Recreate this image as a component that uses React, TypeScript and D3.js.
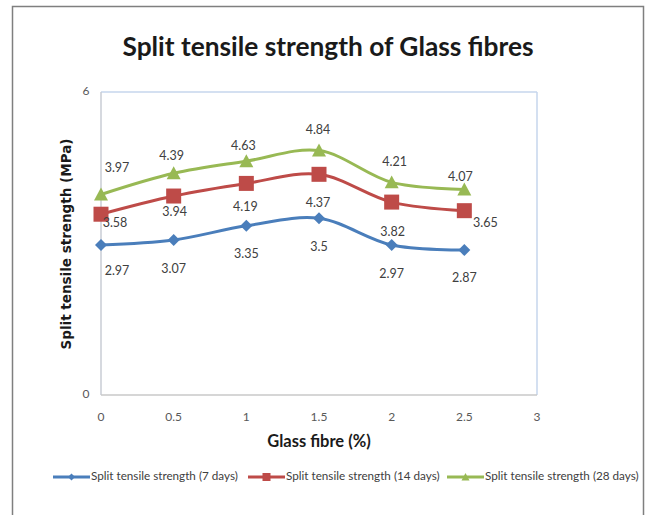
import React from "react";
import * as d3 from "d3";

const fibre = [0, 0.5, 1, 1.5, 2, 2.5];
const days7 = [2.97, 3.07, 3.35, 3.5, 2.97, 2.87];
const days14 = [3.58, 3.94, 4.19, 4.37, 3.82, 3.65];
const days28 = [3.97, 4.39, 4.63, 4.84, 4.21, 4.07];
const seriesNames = [
  "Split tensile strength (7 days)",
  "Split tensile strength (14 days)",
  "Split tensile strength (28 days)",
];
const xTicks = [0, 0.5, 1, 1.5, 2, 2.5, 3];
const yTicks = [0, 6];

const W = 646;
const H = 515;
const FONT = "Lato, 'Open Sans', sans-serif";

// label offsets (layout only)
const lblDx = [
  [16, 0, 0, 0, 0, 0],
  [14, 1, -1, -1, 1, 21],
  [16, -2, -3, -1, 3, -4],
];
const lblDy = [
  [27, 30, 29, 30, 30, 29],
  [10, 17, 24, 30, 31, 13],
  [-26, -16, -14, -20, -20, -12],
];

const colors = ["#4A7EBB", "#BE4B48", "#98B954"];
const markers = ["diamond", "square", "triangle"];

function Marker({ type, x, y, s, color }: { type: string; x: number; y: number; s: number; color: string }) {
  if (type === "diamond") {
    const h = s / 2;
    return <path d={`M${x},${y - h}L${x + h},${y}L${x},${y + h}L${x - h},${y}Z`} fill={color} />;
  }
  if (type === "square") {
    return <rect x={x - s / 2} y={y - s / 2} width={s} height={s} fill={color} />;
  }
  const h = s / 2;
  return <path d={`M${x},${y - h}L${x + h},${y + h * 0.85}L${x - h},${y + h * 0.85}Z`} fill={color} />;
}

export default function App() {
  const x = d3.scaleLinear().domain([0, 3]).range([101, 537]);
  const y = d3.scaleLinear().domain([0, 6]).range([395, 92]);
  const data = [days7, days14, days28];
  const line = d3
    .line<number>()
    .x((_, i) => x(fibre[i]))
    .y((d) => y(d))
    .curve(d3.curveCatmullRom.alpha(0.5));
  const mSize = [12, 15, 14];
  const legendX = [53, 248, 447];
  const legendY = 477;
  const legendLen = 37;
  const lmSize = [7, 8, 8];

  return (
    <svg width={W} height={H} style={{ position: "absolute", left: 0, top: 0, background: "#fff" }}>
      <rect x={0} y={0} width={W} height={H} fill="#fff" />
      <path d={`M12.5,${H}V6.5H643.5V${H}`} fill="none" stroke="#7f7f7f" strokeWidth={1.5} />
      <text x={328} y={49} textAnchor="middle" dominantBaseline="middle" fontFamily={FONT} fontWeight="bold" fontSize={26.3} fill="#1a1a1a">
        Split tensile strength of Glass fibres
      </text>
      {/* plot frame */}
      <line x1={x(0)} x2={x(3)} y1={y(6)} y2={y(6)} stroke="#c6d6ec" strokeWidth={1.5} />
      <line x1={x(3)} x2={x(3)} y1={y(6)} y2={y(0)} stroke="#c6d6ec" strokeWidth={1.5} />
      <line x1={x(0)} x2={x(0)} y1={y(6)} y2={y(0)} stroke="#c8ccd4" strokeWidth={1.5} />
      <line x1={x(0)} x2={x(3)} y1={y(0)} y2={y(0)} stroke="#c8c8c8" strokeWidth={1.5} />
      {yTicks.map((t) => (
        <text key={t} x={86} y={y(t)} textAnchor="middle" dominantBaseline="middle" fontFamily={FONT} fontSize={12} fill="#595959">
          {t}
        </text>
      ))}
      {xTicks.map((t) => (
        <text key={t} x={x(t)} y={418} textAnchor="middle" dominantBaseline="middle" fontFamily={FONT} fontSize={12} fill="#595959">
          {t}
        </text>
      ))}
      <text x={319} y={443} textAnchor="middle" dominantBaseline="middle" fontFamily={FONT} fontWeight="bold" fontSize={16.5} fill="#1a1a1a">
        Glass fibre (%)
      </text>
      <text
        transform={`translate(67,244) rotate(-90)`}
        textAnchor="middle"
        dominantBaseline="middle"
        fontFamily="'DejaVu Sans', sans-serif"
        fontWeight="bold"
        fontSize={13.5}
        fill="#1a1a1a"
      >
        Split tensile strength (MPa)
      </text>
      {data.map((s, si) => (
        <g key={si}>
          <path d={line(s) || ""} fill="none" stroke={colors[si]} strokeWidth={3} />
          {s.map((v, i) => (
            <Marker key={i} type={markers[si]} x={x(fibre[i])} y={y(v)} s={mSize[si]} color={colors[si]} />
          ))}
        </g>
      ))}
      {data.map((s, si) =>
        s.map((v, i) => (
          <text
            key={`${si}-${i}`}
            x={x(fibre[i]) + lblDx[si][i]}
            y={y(v) + lblDy[si][i]}
            textAnchor="middle"
            dominantBaseline="middle"
            fontFamily={FONT}
            fontSize={12.5}
            fill="#404040"
          >
            {v}
          </text>
        ))
      )}
      {seriesNames.map((n, si) => (
        <g key={n}>
          <line x1={legendX[si]} x2={legendX[si] + legendLen} y1={legendY} y2={legendY} stroke={colors[si]} strokeWidth={3} />
          <Marker type={markers[si]} x={legendX[si] + legendLen / 2} y={legendY} s={lmSize[si]} color={colors[si]} />
          <text x={legendX[si] + legendLen + 1} y={legendY} dominantBaseline="middle" fontFamily={FONT} fontSize={11.7} fill="#404040">
            {n}
          </text>
        </g>
      ))}
    </svg>
  );
}
